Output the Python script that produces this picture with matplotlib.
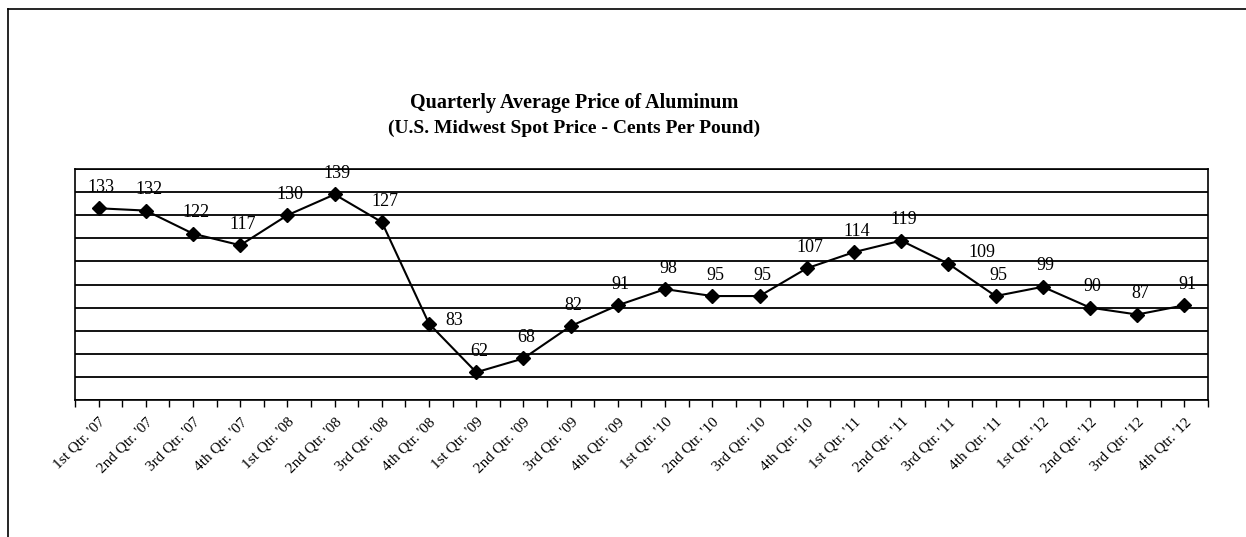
import matplotlib
matplotlib.use("Agg")
import matplotlib.pyplot as plt
from matplotlib.lines import Line2D
import numpy as np

quarters = ["1st Qtr. '07", "2nd Qtr. '07", "3rd Qtr. '07", "4th Qtr. '07",
            "1st Qtr. '08", "2nd Qtr. '08", "3rd Qtr. '08", "4th Qtr. '08",
            "1st Qtr. '09", "2nd Qtr. '09", "3rd Qtr. '09", "4th Qtr. '09",
            "1st Qtr. '10", "2nd Qtr. '10", "3rd Qtr. '10", "4th Qtr. '10",
            "1st Qtr. '11", "2nd Qtr. '11", "3rd Qtr. '11", "4th Qtr. '11",
            "1st Qtr. '12", "2nd Qtr. '12", "3rd Qtr. '12", "4th Qtr. '12"]
prices = [133, 132, 122, 117, 130, 139, 127, 83, 62, 68, 82, 91,
          98, 95, 95, 107, 114, 119, 109, 95, 99, 90, 87, 91]

plt.rcParams['font.family'] = ['Liberation Serif', 'DejaVu Serif']

W, H = 1246, 537
fig = plt.figure(figsize=(W / 100, H / 100), dpi=100)
fig.patch.set_facecolor('white')

# outer frame (top and left visible)
fig.add_artist(Line2D([8 / W, 1.0], [1 - 9 / H, 1 - 9 / H], color='black', lw=1.2))
fig.add_artist(Line2D([8 / W, 8 / W], [0, 1 - 9 / H], color='black', lw=1.2))

left, right, top, bottom = 75, 1208, 169, 400
ax = fig.add_axes([left / W, 1 - bottom / H, (right - left) / W, (bottom - top) / H])

x = np.arange(len(prices))
ax.set_xlim(-0.5, len(prices) - 0.5)
ax.set_ylim(50, 150)
ax.set_yticks(np.arange(50, 151, 10))
ax.yaxis.grid(True, color='black', lw=1.3)
ax.set_axisbelow(True)
ax.tick_params(axis='y', left=False, labelleft=False)

ax.plot(x, prices, color='black', lw=1.5, marker='D', markersize=7,
        markerfacecolor='black', markeredgecolor='black', zorder=3)

ax.set_xticks(x)
ax.set_xticks(np.arange(-0.5, len(prices), 1.0), minor=True)
ax.set_xticklabels(quarters, rotation=45, ha='right', rotation_mode='anchor', fontsize=11)
ax.tick_params(axis='x', which='both', direction='out', length=5, width=1, pad=6)

for sp in ax.spines.values():
    sp.set_color('black')
    sp.set_linewidth(1.2)

special = {7: (18, 2), 18: (24, 8)}
for i, v in enumerate(prices):
    dx, dy = special.get(i, (2, 9))
    ax.annotate(str(v), (i, v), xytext=(dx, dy), textcoords='offset points',
                ha='center', va='bottom' if i not in special else 'center',
                fontsize=13, color='black')

fig.text(574 / W, 1 - 103 / H, "Quarterly Average Price of Aluminum",
         ha='center', va='center', fontsize=14.5, fontweight='bold')
fig.text(574 / W, 1 - 128 / H, "(U.S. Midwest Spot Price - Cents Per Pound)",
         ha='center', va='center', fontsize=14, fontweight='bold')

fig.savefig("out.png", dpi=100, facecolor='white')
